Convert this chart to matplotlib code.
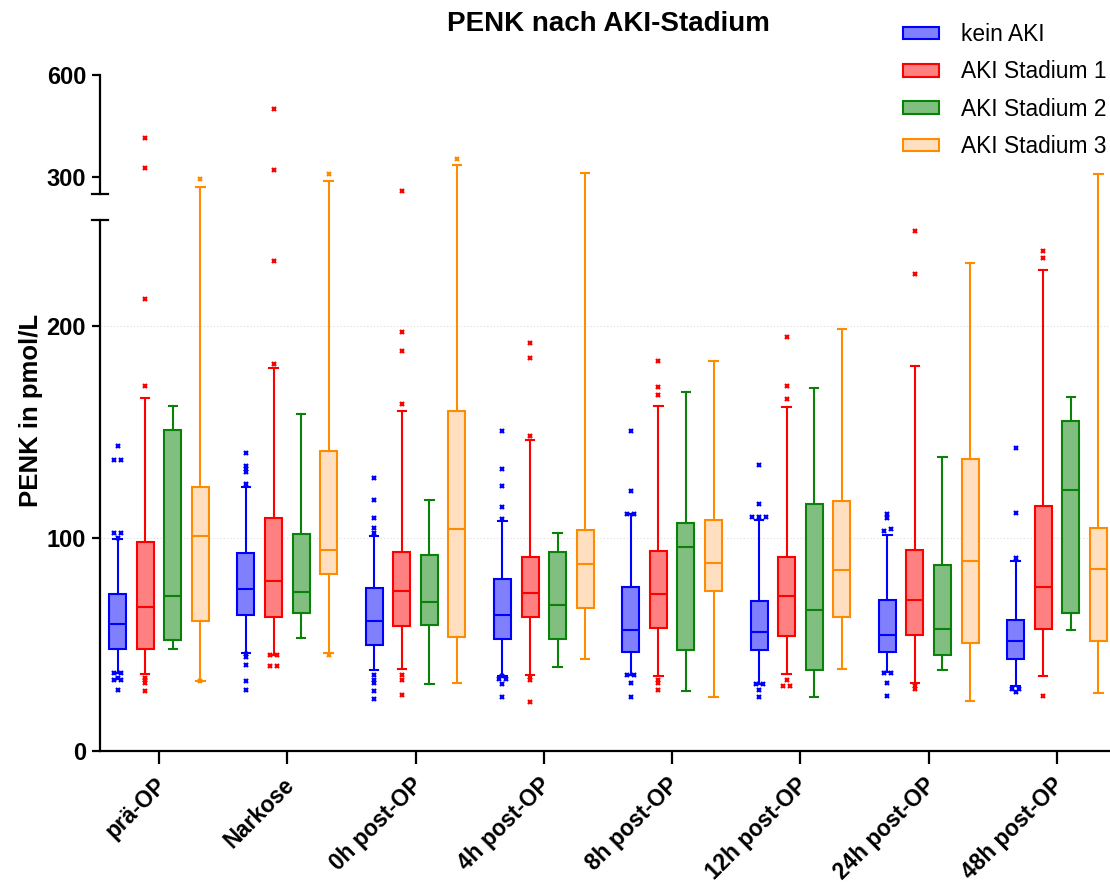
import matplotlib
matplotlib.use("Agg")
import matplotlib.pyplot as plt
import numpy as np
from matplotlib.patches import Patch
from matplotlib.lines import Line2D
from matplotlib.transforms import Bbox, TransformedBbox, ScaledTranslation

plt.rcParams['font.family'] = ['Liberation Sans', 'DejaVu Sans']

# ---------------- data (PENK in pmol/L) ----------------
timepoints = ['prä-OP', 'Narkose', '0h post-OP', '4h post-OP',
              '8h post-OP', '12h post-OP', '24h post-OP', '48h post-OP']
series = ['kein AKI', 'AKI Stadium 1', 'AKI Stadium 2', 'AKI Stadium 3']

# kein AKI
kein_lo  = [36.9, 46.0, 38.0, 35.3, 35.9, 31.7, 37.1, 30.4]
kein_q1  = [47.8, 64.0, 50.0, 52.5, 46.8, 47.5, 46.6, 43.4]
kein_med = [59.6, 76.2, 61.0, 64.2, 56.9, 56.2, 54.5, 51.9]
kein_q3  = [73.7, 93.3, 76.5, 80.9, 77.0, 70.4, 70.9, 61.6]
kein_hi  = [99.6, 124.4, 101.0, 108.3, 111.3, 108.9, 101.8, 89.4]
kein_out = [[143.7, 136.9, 136.9, 102.4, 102.4, 100.2, 36.5, 36.5, 34.5, 33.4, 33.4, 28.7],
            [140.4, 134.3, 132.7, 131.1, 125.8, 45.5, 44.4, 40.3, 32.9, 28.7],
            [128.6, 117.9, 109.6, 104.8, 102.5, 35.9, 33.6, 32.0, 28.2, 24.4],
            [150.6, 132.8, 124.8, 114.6, 109.3, 35.3, 33.7, 33.7, 31.7, 25.5],
            [150.4, 122.5, 111.5, 111.5, 35.9, 35.9, 32.2, 25.3],
            [134.5, 116.0, 110.0, 110.0, 110.0, 31.7, 31.7, 28.8, 25.3],
            [111.5, 109.7, 104.4, 103.7, 36.5, 36.5, 31.8, 25.8],
            [142.7, 112.0, 91.0, 29.0, 29.0, 27.9]]

# AKI Stadium 1
aki1_lo  = [36.0, 45.2, 38.7, 35.9, 35.5, 36.1, 31.8, 35.5]
aki1_q1  = [48.1, 63.1, 58.9, 63.2, 57.7, 54.3, 54.7, 57.2]
aki1_med = [67.6, 80.1, 75.5, 74.4, 73.8, 72.8, 70.9, 77.1]
aki1_q3  = [98.2, 109.6, 93.7, 91.4, 93.9, 91.4, 94.4, 115.2]
aki1_hi  = [166.1, 180.1, 160.0, 146.4, 162.3, 161.7, 181.1, 226.1]
aki1_out = [[416.0, 326.5, 212.5, 171.8, 34.5, 33.4, 31.8, 28.2],
            [500.0, 321.6, 230.6, 182.1, 45.2, 45.2, 40.0, 40.0],
            [259.0, 197.2, 188.2, 163.3, 35.9, 33.6, 26.3],
            [192.0, 185.1, 148.3, 34.9, 33.5, 23.2],
            [183.6, 171.1, 167.7, 33.5, 32.2, 28.8],
            [194.7, 171.9, 165.4, 33.5, 30.5, 30.5],
            [244.6, 224.3, 30.4, 29.1],
            [235.1, 232.1, 25.8]]

# AKI Stadium 2
aki2_lo  = [48.0, 53.3, 31.4, 39.3, 28.4, 25.3, 38.3, 57.0]
aki2_q1  = [52.4, 64.9, 59.2, 52.5, 47.5, 38.2, 45.2, 64.9]
aki2_med = [72.8, 74.8, 70.0, 68.8, 96.0, 66.5, 57.2, 122.9]
aki2_q3  = [150.9, 102.0, 92.2, 93.4, 107.3, 116.0, 87.3, 155.4]
aki2_hi  = [162.2, 158.4, 118.3, 102.5, 168.8, 171.0, 138.1, 166.5]
aki2_out = [[], [], [], [], [], [], [], []]

# AKI Stadium 3
aki3_lo  = [32.9, 46.3, 32.2, 43.2, 25.3, 38.5, 23.3, 27.2]
aki3_q1  = [61.2, 83.1, 53.5, 67.1, 75.5, 62.9, 51.0, 51.7]
aki3_med = [101.2, 94.6, 104.5, 88.2, 88.6, 85.3, 89.4, 85.4]
aki3_q3  = [124.4, 141.3, 160.0, 104.1, 108.9, 117.5, 137.6, 105.1]
aki3_hi  = [270.6, 289.0, 336.5, 311.0, 183.4, 198.4, 229.4, 308.0]
aki3_out = [[294.0, 32.9], [308.0, 45.2], [353.0], [], [], [], [], []]

stats_by_series = [
    (kein_lo, kein_q1, kein_med, kein_q3, kein_hi, kein_out),
    (aki1_lo, aki1_q1, aki1_med, aki1_q3, aki1_hi, aki1_out),
    (aki2_lo, aki2_q1, aki2_med, aki2_q3, aki2_hi, aki2_out),
    (aki3_lo, aki3_q1, aki3_med, aki3_q3, aki3_hi, aki3_out),
]

edge_colors = ['#0000FF', '#FF0000', '#0A820A', '#FF8C00']
face_colors = ['#8080FF', '#FF8080', '#80BF80', '#FFDFBF']

# ---------------- layout ----------------
W, H = 1110, 886
fig = plt.figure(figsize=(W / 100, H / 100), dpi=100)

def fx(px):
    return px / W

def fy(py):
    return 1 - py / H

x_left, x_right = 100, 1116
y_zero, y_low_top = 751, 219.6
y_up_bot, y_up_top = 194, 75
break_at, y_max = 250, 600

ax_low = fig.add_axes([fx(x_left), fy(y_zero), fx(x_right - x_left), (y_zero - y_low_top) / H])
ax_up = fig.add_axes([fx(x_left), fy(y_up_bot), fx(x_right - x_left), (y_up_bot - y_up_top) / H])

n_groups = len(timepoints)
group_pos = np.arange(n_groups)
step = 0.215
box_w = 0.133
lw = 1.5

# clip region for whiskers of the lower panel: extends through the axis gap
gap_clip = TransformedBbox(
    Bbox.from_extents(fx(x_left), fy(y_zero), fx(x_right), fy(y_up_bot)),
    fig.transFigure)


def spread_x(values, center, tol=1.0, dx=0.055):
    """Spread nearly coincident outliers horizontally around the box centre."""
    vals = np.asarray(values, dtype=float)
    xs = np.full(len(vals), center)
    order = np.argsort(vals)
    clusters, cur = [], []
    for i in order:
        if cur and vals[i] - vals[cur[-1]] > tol:
            clusters.append(cur)
            cur = []
        cur.append(i)
    if cur:
        clusters.append(cur)
    for cl in clusters:
        n = len(cl)
        for k, i in enumerate(cl):
            xs[i] = center + (k - (n - 1) / 2) * dx
    return xs


for s_idx, (lo, q1, med, q3, hi, out) in enumerate(stats_by_series):
    pos = group_pos + (s_idx - 1.5) * step
    stats = [dict(whislo=lo[g], q1=q1[g], med=med[g], q3=q3[g], whishi=hi[g], fliers=[])
             for g in range(n_groups)]
    ec, fc = edge_colors[s_idx], face_colors[s_idx]
    for ax in (ax_low, ax_up):
        res = ax.bxp(stats, positions=pos, widths=box_w, capwidths=box_w * 0.5,
                     patch_artist=True, showfliers=False, manage_ticks=False,
                     boxprops=dict(facecolor=fc, edgecolor=ec, linewidth=lw),
                     medianprops=dict(color=ec, linewidth=lw, solid_capstyle='butt'),
                     whiskerprops=dict(color=ec, linewidth=lw),
                     capprops=dict(color=ec, linewidth=lw))
        if ax is ax_low:
            for line in res['whiskers']:
                line.set_clip_box(gap_clip)
    # outliers
    for g in range(n_groups):
        if not out[g]:
            continue
        vals = np.asarray(out[g])
        xs = spread_x(vals, pos[g])
        low_mask = vals < break_at
        ax_low.plot(xs[low_mask], vals[low_mask], linestyle='none', marker='x',
                    ms=3.4, mew=1.6, color=ec, clip_on=False, zorder=4)
        ax_up.plot(xs[~low_mask], vals[~low_mask], linestyle='none', marker='x',
                   ms=3.4, mew=1.6, color=ec, clip_on=False, zorder=4)

# ---------------- axes styling ----------------
xlim = (-0.46, n_groups - 1 + 0.46)
for ax in (ax_low, ax_up):
    ax.set_xlim(*xlim)
    ax.spines['right'].set_visible(False)
    ax.spines['top'].set_visible(False)
    ax.spines['left'].set_linewidth(1.6)
    ax.spines['bottom'].set_linewidth(1.6)
    ax.tick_params(axis='y', length=6, width=1.6, pad=4, labelsize=17)

ax_low.set_ylim(0, break_at)
ax_low.set_yticks([0, 100, 200])
ax_low.set_yticklabels(['0', '100', '200'], fontweight='bold', fontsize=17)
ax_low.yaxis.grid(True, color='#dedede', linestyle=(0, (1, 2)), linewidth=0.8)
ax_low.set_axisbelow(True)
ax_low.set_xticks(group_pos)
ax_low.set_xticklabels(timepoints, rotation=45, ha='right', va='top',
                       rotation_mode='anchor', fontweight='bold', fontsize=16.3)
ax_low.tick_params(axis='x', length=9.5, width=1.6, pad=7)
shift = ScaledTranslation(-5 / 100, 0, fig.dpi_scale_trans)
for t in ax_low.get_xticklabels():
    t.set_transform(t.get_transform() + shift)

ax_up.set_ylim(break_at, y_max)
ax_up.set_yticks([300, 600])
ax_up.set_yticklabels(['300', '600'], fontweight='bold', fontsize=17)
ax_up.spines['bottom'].set_visible(False)
ax_up.set_xticks([])
ax_up.patch.set_alpha(0)

# axis break marks
for yb in (y_low_top, y_up_bot):
    fig.add_artist(Line2D([fx(x_left - 8), fx(x_left + 8)], [fy(yb), fy(yb)],
                          transform=fig.transFigure, color='black', linewidth=1.6))

# ---------------- texts & legend ----------------
fig.text(fx(608), fy(24), 'PENK nach AKI-Stadium', ha='center', va='center',
         fontsize=20, fontweight='bold')
fig.text(fx(31), fy(410), 'PENK in pmol/L', ha='center', va='center',
         rotation=90, fontsize=18.5, fontweight='bold')

handles = [Patch(facecolor=face_colors[i], edgecolor=edge_colors[i], linewidth=lw)
           for i in range(len(series))]
fig.legend(handles, series, loc='upper left', bbox_to_anchor=(fx(903), fy(23)),
           frameon=False, fontsize=16.4, handlelength=1.58, handleheight=0.48,
           handletextpad=0.96, labelspacing=0.63, borderpad=0, borderaxespad=0)

fig.savefig('out.png', dpi=100)
